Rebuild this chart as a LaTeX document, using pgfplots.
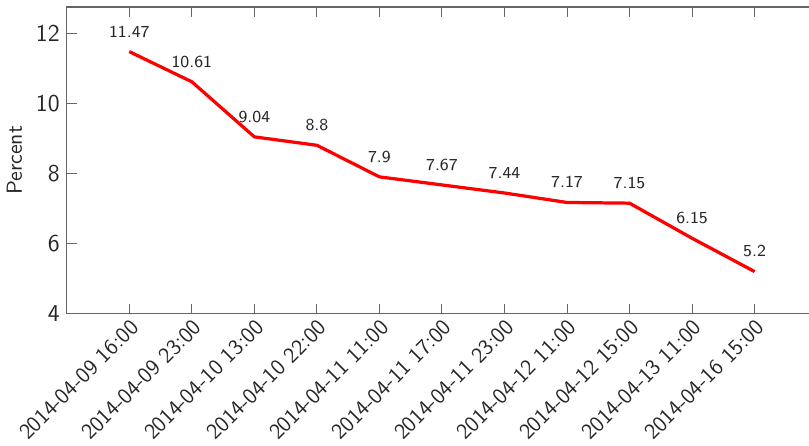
\documentclass[border=0pt]{standalone}
\usepackage{pgfplots}
\pgfplotsset{compat=1.18}
\usepackage{pgfplotstable}
\pgfplotstableread{
x y lab
0 11.47 11.47
1 10.61 10.61
2 9.04 9.04
3 8.8 8.8
4 7.9 7.9
5 7.67 7.67
6 7.44 7.44
7 7.17 7.17
8 7.15 7.15
9 6.15 6.15
10 5.2 5.2
}\datatable
\begin{document}
\begin{tikzpicture}
\begin{axis}[
  name=ax,
  scale only axis,
  width=372pt, height=152pt,
  xmin=-1, xmax=11,
  ymin=4, ymax=12.74,
  axis lines=box,
  axis line style={black!60, line width=0.6pt},
  tick style={black!60, line width=0.5pt},
  tick align=inside,
  major tick length=5pt,
  ytick={4,6,8,10,12},
  ytick pos=left,
  xtick={0,...,10},
  xticklabels={2014-04-09 16:00,2014-04-09 23:00,2014-04-10 13:00,2014-04-10 22:00,2014-04-11 11:00,2014-04-11 17:00,2014-04-11 23:00,2014-04-12 11:00,2014-04-12 15:00,2014-04-13 11:00,2014-04-16 15:00},
  xticklabel style={rotate=45, anchor=north east, inner sep=1.5pt, font=\sffamily\fontsize{11}{13}\selectfont, text=black!85},
  yticklabel style={font=\sffamily\fontsize{12}{14}\selectfont, text=black!85},
  /pgf/number format/assume math mode=true,
  ylabel={Percent},
  ylabel style={font=\sffamily\fontsize{10.8}{12}\selectfont, text=black!85},
  nodes near coords,
  point meta=explicit symbolic,
  every node near coord/.append style={font=\sffamily\fontsize{8.3}{10}\selectfont, text=black!85, anchor=south, yshift=3pt},
  clip=false,
]
\addplot[red, line width=1.6pt, no markers] table[x=x, y=y, meta=lab] {\datatable};
\coordinate (R) at (axis cs:10.87,4);
\end{axis}
\pgfresetboundingbox
\path[use as bounding box] (ax.outer south west) rectangle ([yshift=3.5pt]R |- ax.north);
\end{tikzpicture}
\end{document}
